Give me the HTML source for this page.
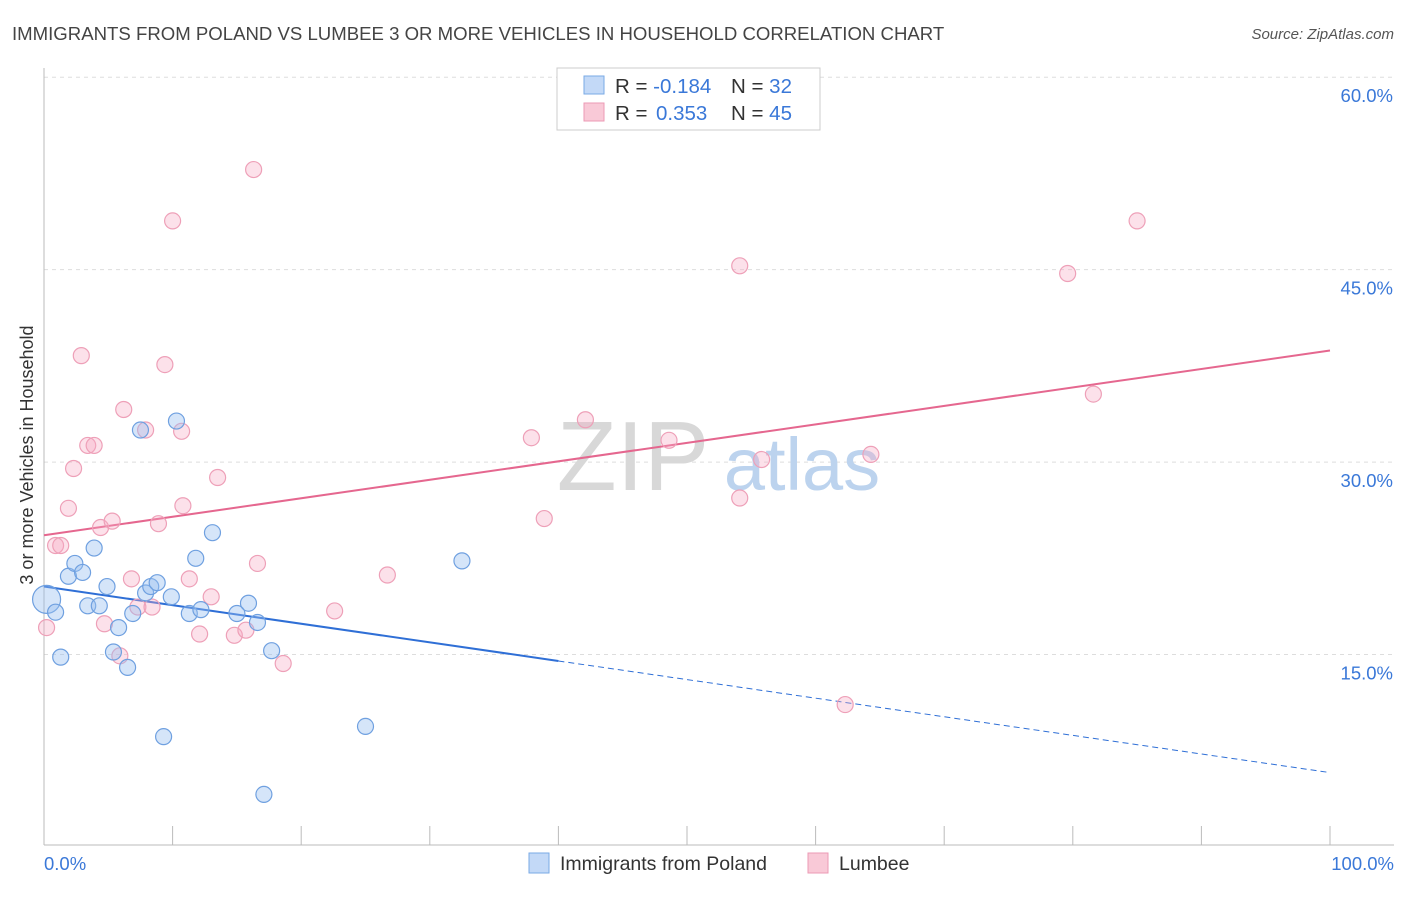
<!DOCTYPE html>
<html><head><meta charset="utf-8"><style>
body{margin:0;background:#fff;font-family:"Liberation Sans",sans-serif;}
svg text{font-family:"Liberation Sans",sans-serif;}
</style></head><body>
<svg id="chart" width="1406" height="892">
<text x="12" y="40" font-size="18.6" fill="#444">IMMIGRANTS FROM POLAND VS LUMBEE 3 OR MORE VEHICLES IN HOUSEHOLD CORRELATION CHART</text>
<text x="1394" y="39" font-size="15" fill="#555" font-style="italic" text-anchor="end">Source: ZipAtlas.com</text>
<text transform="translate(33,455) rotate(-90)" font-size="18" fill="#333" text-anchor="middle">3 or more Vehicles in Household</text>
<g id="grid"></g>
<g>
<text x="633" y="490" font-size="98" font-family="Liberation Serif" fill="#d8d8d8" text-anchor="middle">ZIP</text>
<text x="802" y="490" font-size="74" fill="#bcd3ee" text-anchor="middle">atlas</text>
</g>
<g id="lines"></g>
<g id="points"></g>
<g>
<rect x="557" y="68" width="263" height="62" fill="#fff" stroke="#ccc"/>
<rect x="584" y="76" width="20" height="18" fill="#c3d9f7" stroke="#7aaae6"/>
<rect x="584" y="103" width="20" height="18" fill="#f9c9d7" stroke="#ec9ab4"/>
<text x="615" y="93" font-size="20.5" fill="#333">R = <tspan fill="#3a78d8">-0.184</tspan><tspan x="731">N = </tspan><tspan fill="#3a78d8">32</tspan></text>
<text x="615" y="120" font-size="20.5" fill="#333">R = <tspan x="656" fill="#3a78d8">0.353</tspan><tspan x="731">N = </tspan><tspan fill="#3a78d8">45</tspan></text>
</g>
<g>
<rect x="529" y="853" width="20" height="20" fill="#c3d9f7" stroke="#7aaae6"/>
<text x="560" y="870" font-size="19.5" fill="#333">Immigrants from Poland</text>
<rect x="808" y="853" width="20" height="20" fill="#f9c9d7" stroke="#ec9ab4"/>
<text x="839" y="870" font-size="19.5" fill="#333">Lumbee</text>
</g>
</svg>
<script>
const yTicks=[15,30,45,60];
const yTickLabels=["15.0%","30.0%","45.0%","60.0%"];
const xTicks=[0,10,20,30,40,50,60,70,80,90,100];
const polandX=[0.2,0.9,1.3,1.9,2.4,3.0,3.4,3.9,4.3,4.9,5.4,5.8,6.5,6.9,7.5,7.9,8.3,8.8,9.3,9.9,10.3,11.3,11.8,12.2,13.1,15.0,15.9,16.6,17.1,17.7,25.0,32.5];
const polandY=[19.3,18.3,14.8,21.1,22.1,21.4,18.8,23.3,18.8,20.3,15.2,17.1,14.0,18.2,32.5,19.8,20.3,20.6,8.6,19.5,33.2,18.2,22.5,18.5,24.5,18.2,19.0,17.5,4.1,15.3,9.4,22.3];
const lumbeeX=[0.2,0.9,1.3,1.9,2.3,2.9,3.4,3.9,4.4,4.7,5.3,5.9,6.2,6.8,7.3,7.9,8.4,8.9,9.4,10.0,10.7,10.8,11.3,12.1,13.0,13.5,14.8,15.7,16.3,16.6,18.6,22.6,26.7,37.9,38.9,42.1,48.6,54.1,54.1,55.8,62.3,64.3,79.6,81.6,85.0];
const lumbeeY=[17.1,23.5,23.5,26.4,29.5,38.3,31.3,31.3,24.9,17.4,25.4,14.9,34.1,20.9,18.7,32.5,18.7,25.2,37.6,48.8,32.4,26.6,20.9,16.6,19.5,28.8,16.5,16.9,52.8,22.1,14.3,18.4,21.2,31.9,25.6,33.3,31.7,45.3,27.2,30.2,11.1,30.6,44.7,35.3,48.8];
const polandTrend=[20.3,5.8];
const lumbeeTrend=[24.3,38.7];
const NS="http://www.w3.org/2000/svg";
const X=v=>44+v*12.86, Y=v=>847-v*12.83;
function mk(tag,a,parent){const e=document.createElementNS(NS,tag);for(const k in a)e.setAttribute(k,a[k]);document.getElementById(parent).appendChild(e);return e;}
yTicks.forEach((t,i)=>{
 const l=mk('line',{x1:44,x2:1394,y1:Y(t),y2:Y(t),stroke:'#ddd','stroke-dasharray':'4,4'},'grid');
 
 
 const tx=mk('text',{x:1393,y:Y(t)+25,'font-size':18.5,fill:'#3a78d8','text-anchor':'end'},'grid');
 tx.textContent=yTickLabels[i];
 
 
});
const ax=mk('line',{x1:44,x2:1394,y1:845,y2:845,stroke:'#bbb'},'grid');


const ay=mk('line',{x1:44,x2:44,y1:68,y2:845,stroke:'#bbb'},'grid');


xTicks.forEach(t=>{const l=mk('line',{x1:X(t),x2:X(t),y1:826,y2:845,stroke:'#bbb'},'grid');
 
 });
[[0,"0.0%","start",44],[100,"100.0%","end",1394]].forEach(d=>{const t=mk('text',{x:d[3],y:870,'font-size':18.5,fill:'#3a78d8','text-anchor':d[2]},'grid');t.textContent=d[1];
 
 });
const bEnd=40;
const bl1=mk('line',{x1:X(0),y1:Y(polandTrend[0]),x2:X(bEnd),y2:Y(polandTrend[0]+(polandTrend[1]-polandTrend[0])*bEnd/100),stroke:'#2f6fd6','stroke-width':2},'lines');


const bl2=mk('line',{x1:X(bEnd),y1:Y(polandTrend[0]+(polandTrend[1]-polandTrend[0])*bEnd/100),x2:X(100),y2:Y(polandTrend[1]),stroke:'#2f6fd6','stroke-width':1,'stroke-dasharray':'6,4'},'lines');


const pl=mk('line',{x1:X(0),y1:Y(lumbeeTrend[0]),x2:X(100),y2:Y(lumbeeTrend[1]),stroke:'#e5678f','stroke-width':2},'lines');


lumbeeX.forEach((x,i)=>{const c=mk('circle',{cx:X(x),cy:Y(lumbeeY[i]),r:8,fill:'rgba(246,170,195,0.35)',stroke:'#eea0b8','stroke-width':1.2},'points');
 
 });
polandX.forEach((x,i)=>{const c=mk('circle',{cx:X(x),cy:Y(polandY[i]),r:i===0?14:8,fill:'rgba(150,190,240,0.4)',stroke:'#6fa0e0','stroke-width':1.2},'points');
 
 });
</script>
</body></html>
